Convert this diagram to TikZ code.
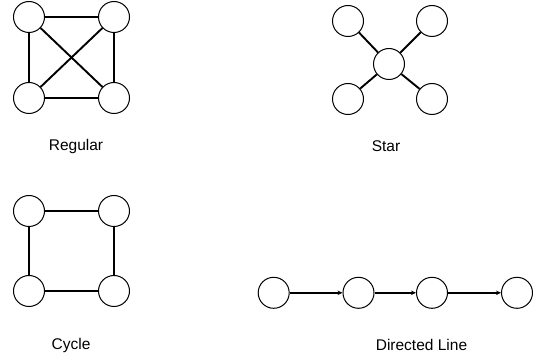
\documentclass[tikz,border=0pt]{standalone}
\usepackage{fontspec}
\setmainfont{Liberation Sans}
\usetikzlibrary{arrows.meta}
\begin{document}
\begin{tikzpicture}[x=1pt,y=-1pt,
  vtx/.style={circle,draw=black,fill=white,line width=1pt,minimum size=31pt,inner sep=0pt},
  edge/.style={line width=1.9pt},
  dedge/.style={line width=1.5pt,-{Stealth[length=5pt,width=4.5pt]}},
  lbl/.style={font=\fontsize{15.5}{18}\selectfont,anchor=base}]
\useasboundingbox (0,0) rectangle (542,358);
% Regular
\node[vtx] (r1) at (29,17) {};
\node[vtx] (r2) at (114,17) {};
\node[vtx] (r3) at (29,98) {};
\node[vtx] (r4) at (114,98) {};
\draw[edge] (r1) -- (r2);
\draw[edge] (r1) -- (r3);
\draw[edge] (r2) -- (r4);
\draw[edge] (r3) -- (r4);
\draw[edge] (r1) -- (r4);
\draw[edge] (r2) -- (r3);
\node[lbl] (lr) at (76,150.7) {Regular};
% Star
\node[vtx] (sc) at (389,64) {};
\node[vtx] (s1) at (348,21) {};
\node[vtx] (s2) at (432,21) {};
\node[vtx] (s3) at (348,99) {};
\node[vtx] (s4) at (432,99) {};
\draw[edge] (sc) -- (s1);
\draw[edge] (sc) -- (s2);
\draw[edge] (sc) -- (s3);
\draw[edge] (sc) -- (s4);
\node[lbl] (ls) at (386,151.7) {Star};
% Cycle
\node[vtx] (c1) at (29,211) {};
\node[vtx] (c2) at (114,211) {};
\node[vtx] (c3) at (29,291) {};
\node[vtx] (c4) at (114,291) {};
\draw[edge] (c1) -- (c2);
\draw[edge] (c2) -- (c4);
\draw[edge] (c4) -- (c3);
\draw[edge] (c3) -- (c1);
\node[lbl] (lc) at (71,349.5) {Cycle};
% Directed line
\node[vtx] (d1) at (273.7,292.8) {};
\node[vtx] (d2) at (358.5,292.8) {};
\node[vtx] (d3) at (432,292.8) {};
\node[vtx] (d4) at (517,292.8) {};
\draw[dedge] (d1) -- (d2);
\draw[dedge] (d2) -- (d3);
\draw[dedge] (d3) -- (d4);
\node[lbl] (ld) at (421.5,350.7) {Directed Line};
\end{tikzpicture}
\end{document}
